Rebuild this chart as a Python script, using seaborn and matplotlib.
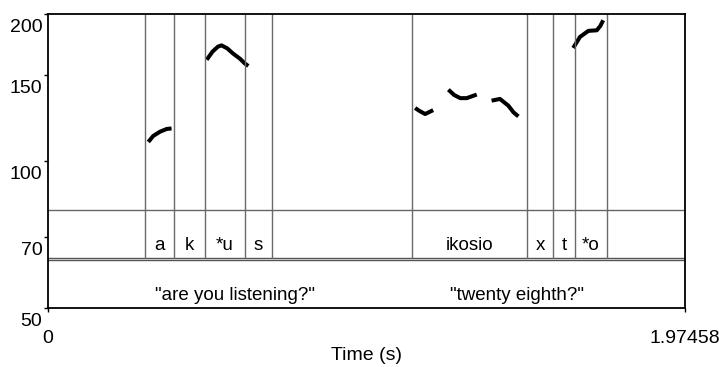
import numpy as np
import pandas as pd
import matplotlib
matplotlib.use("Agg")
import matplotlib.pyplot as plt
import matplotlib.transforms as mtransforms
import seaborn as sns

# Pitch contour pieces (time in s, F0 in Hz)
seg_a_t = [0.311, 0.326, 0.347, 0.368, 0.383]
seg_a_f = [109.4, 112.5, 114.8, 116.3, 116.6]

seg_u_t = [0.492, 0.510, 0.527, 0.538, 0.556, 0.574, 0.595, 0.611, 0.621]
seg_u_f = [161.2, 167.5, 171.5, 172.5, 170.0, 165.9, 162.0, 158.2, 156.5]

seg_i1_t = [1.138, 1.150, 1.169, 1.194]
seg_i1_f = [128.4, 126.8, 124.8, 127.1]

seg_i2_t = [1.241, 1.259, 1.278, 1.298, 1.329]
seg_i2_f = [140.0, 136.5, 134.5, 134.5, 136.8]

seg_i3_t = [1.375, 1.401, 1.427, 1.443, 1.458]
seg_i3_f = [132.9, 134.0, 129.8, 125.8, 123.4]

seg_o_t = [1.628, 1.649, 1.675, 1.701, 1.712, 1.721]
seg_o_f = [170.4, 179.5, 184.7, 185.2, 189.0, 194.2]

# Phone tier intervals
phone_labels = ["a", "k", "*u", "s", "ikosio", "x", "t", "*o"]
phone_starts = [0.3007, 0.3896, 0.4867, 0.6097, 1.1293, 1.4848, 1.5664, 1.6345]
phone_ends = [0.3896, 0.4867, 0.6097, 0.6953, 1.4848, 1.5664, 1.6345, 1.7319]

# Phrase tier intervals
phrase_labels = ['"are you listening?"', '"twenty eighth?"']
phrase_starts = [0.3007, 1.1293]
phrase_ends = [0.8600, 1.7800]

t_min, t_max = 0.0, 1.97458
y_ticks = [50, 70, 100, 150, 200]

segments = [(seg_a_t, seg_a_f), (seg_u_t, seg_u_f), (seg_i1_t, seg_i1_f),
            (seg_i2_t, seg_i2_f), (seg_i3_t, seg_i3_f), (seg_o_t, seg_o_f)]
rows = []
for k, (ts, fs) in enumerate(segments):
    for t, f in zip(ts, fs):
        rows.append({"time": t, "f0": f, "piece": k})
df = pd.DataFrame(rows)

sns.set_theme(style="white")
plt.rcParams["font.family"] = ["Liberation Sans", "DejaVu Sans"]

fig = plt.figure(figsize=(7.19, 3.67), dpi=100)
ax = fig.add_axes([48 / 719, 59 / 367, 637 / 719, 294 / 367])

sns.lineplot(data=df, x="time", y="f0", units="piece", estimator=None,
             color="black", linewidth=2.9, ax=ax, legend=False,
             solid_capstyle="butt")

ax.set_yscale("log")
ax.set_xlim(t_min, t_max)
ax.set_ylim(50, 200)

# Tier separators (axes fractions)
tier_top = 1 / 3
tier_mid = 1 / 6
ax.plot([0, 1], [tier_top, tier_top], transform=ax.transAxes,
        color="#666666", lw=1.0)
ax.plot([0, 1], [tier_mid + 0.004, tier_mid + 0.004], transform=ax.transAxes,
        color="#555555", lw=1.0)
ax.plot([0, 1], [tier_mid - 0.004, tier_mid - 0.004], transform=ax.transAxes,
        color="#555555", lw=1.0)

# Phone boundaries and labels
xform = ax.get_xaxis_transform()
bounds = sorted(set(phone_starts) | set(phone_ends))
for b in bounds:
    ax.plot([b, b], [tier_mid + 0.004, 1], transform=xform, color="#6a6a6a", lw=1.0)
for lab, s, e in zip(phone_labels, phone_starts, phone_ends):
    ax.text((s + e) / 2, 0.212, lab, transform=xform, ha="center", va="center",
            fontsize=13.5, color="black")
for lab, s, e in zip(phrase_labels, phrase_starts, phrase_ends):
    ax.text((s + e) / 2, 0.044, lab, transform=xform, ha="center", va="center",
            fontsize=13.5, color="black")

# Frame and ticks
for side in ["top", "left", "right", "bottom"]:
    ax.spines[side].set_visible(True)
    ax.spines[side].set_color("black")
    ax.spines[side].set_linewidth(1.3)

ax.yaxis.set_minor_locator(matplotlib.ticker.NullLocator())
ax.set_yticks(y_ticks)
ax.set_yticklabels([str(v) for v in y_ticks])
ax.tick_params(axis="y", which="major", left=True, length=3, width=1, pad=1,
               labelsize=14, colors="black")
shift_down = mtransforms.ScaledTranslation(0, -5 / 100, fig.dpi_scale_trans)
for lbl in ax.get_yticklabels():
    lbl.set_verticalalignment("top")
    lbl.set_transform(lbl.get_transform() + shift_down)

ax.set_xticks([t_min, t_max])
ax.set_xticklabels(["0", "1.97458"])
ax.tick_params(axis="x", which="major", bottom=True, length=3, width=1, pad=13,
               labelsize=14, colors="black")

ax.set_xlabel("")
ax.set_ylabel("")
fig.text((48 + 637 / 2) / 719, 1 - 356 / 367, "Time (s)", ha="center",
         va="center", fontsize=14, color="black")

fig.savefig("out.png", dpi=100)
